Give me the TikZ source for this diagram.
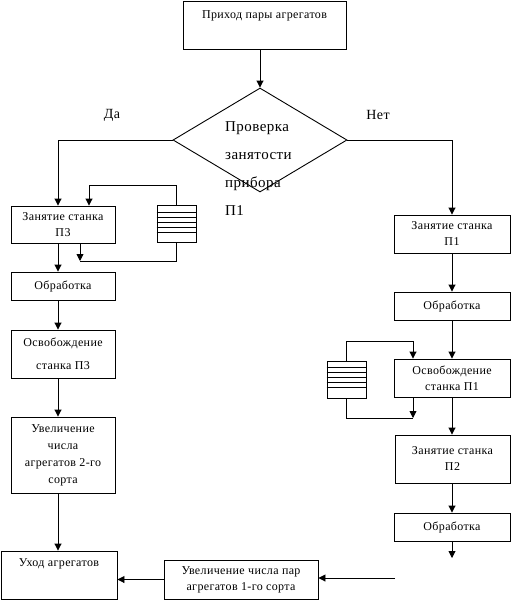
\documentclass[tikz,border=0pt]{standalone}
\usepackage{fontspec}
\setmainfont{Liberation Serif}
\newfontfamily\boxfont[LetterSpace=3]{Liberation Serif}
\usetikzlibrary{shapes.geometric,arrows.meta}
\begin{document}
\begin{tikzpicture}[x=1pt,y=-1pt,
  every node/.style={inner sep=0pt},
  box/.style={draw, line width=0.9pt, align=center, font=\boxfont\fontsize{12}{16}\selectfont},
  txt/.style={font=\boxfont\fontsize{12}{16}\selectfont},
  queue/.style={draw, line width=0.9pt, minimum width=39pt, minimum height=37pt},
  arr/.style={line width=0.9pt, -{Triangle[length=7pt,width=7pt]}},
  ln/.style={line width=0.9pt}]
\useasboundingbox[fill=white] (0,0) rectangle (511,600);
% top
\node[box, minimum width=163pt, minimum height=48pt] (start) at (264.5,25) {};
\node[txt] (startT) at (264.5,16) {Приход пары агрегатов};
% decision
\node[draw, line width=0.9pt, diamond, minimum width=174pt, minimum height=104pt] (dec) at (260,140) {};
\node[anchor=north west, align=left, font=\boxfont\fontsize{15}{28}\selectfont] (decT) at (225,121) {Проверка\\занятости\\прибора\\П1};
\node[font=\boxfont\fontsize{14}{15}\selectfont] (yes) at (112,115) {Да};
\node[font=\boxfont\fontsize{14}{15}\selectfont] (no) at (378,115) {Нет};
% left column
\node[box, minimum width=104pt, minimum height=37pt] (l1) at (63,224.5) {Занятие станка\\П3};
\node[queue] (q1) at (176.5,224) {};
\node[box, minimum width=104pt, minimum height=28pt] (l2) at (63,286) {Обработка};
\node[box, minimum width=104pt, minimum height=48pt, font=\boxfont\fontsize{12}{23}\selectfont] (l3) at (63,354) {Освобождение\\станка П3};
\node[box, minimum width=104pt, minimum height=76pt, font=\boxfont\fontsize{12}{17}\selectfont] (l4) at (63,455) {Увеличение\\числа\\агрегатов 2-го\\сорта};
\node[box, minimum width=116pt, minimum height=48pt] (l5) at (59,575) {};
\node[txt] (l5T) at (59,564) {Уход агрегатов};
% right column
\node[box, minimum width=116pt, minimum height=38pt] (r1) at (452,234) {Занятие станка\\П1};
\node[box, minimum width=116pt, minimum height=28pt] (r2) at (452,306) {Обработка};
\node[box, minimum width=116pt, minimum height=38pt] (r3) at (452,378) {Освобождение\\станка П1};
\node[queue] (q2) at (346.5,379.5) {};
\node[box, minimum width=115pt, minimum height=48pt] (r4) at (452.5,459) {Занятие станка\\П2};
\node[box, minimum width=116pt, minimum height=28pt] (r5) at (452,527) {Обработка};
\coordinate (r5e) at (452,558);
\coordinate (rin) at (395,578);
\node[box, minimum width=154pt, minimum height=39pt] (b1) at (241,579.5) {Увеличение числа пар\\агрегатов 1-го сорта};
% queue lines
\foreach \q in {q1,q2}{
  \foreach \d in {7,12,17,22,27}{
    \draw[ln] ([yshift=-\d pt]\q.north west) -- ([yshift=-\d pt]\q.north east);
  }
}
% connectors
\draw[arr] (dec.north |- start.south) -- (dec.north);
\draw[arr] (dec.west) -| ([xshift=-5pt]l1.north);
\draw[arr] (dec.east) -| (r1.north);
\draw[arr] ([xshift=-5pt]l1.south) -- ([xshift=-5pt]l2.north);
\draw[arr] ([xshift=-5pt]l2.south) -- ([xshift=-5pt]l3.north);
\draw[arr] ([xshift=-5pt]l3.south) -- ([xshift=-5pt]l4.north);
\draw[arr] ([xshift=-5pt]l4.south) -- ([xshift=-5pt]l4.south |- l5.north);
\draw[arr] (q1.north) -- ++(0,-20) -| ([xshift=26pt]l1.north);
\coordinate (l1q) at (80,261);
\draw[ln] (q1.south) |- (l1q);
\draw[arr] (l1q |- l1.south) -- (l1q);
\draw[arr] (r1) -- (r2);
\draw[arr] (r2) -- (r3);
\draw[arr] (r3) -- (r4.north -| r3.south);
\draw[arr] (r4.south -| r5.north) -- (r5);
\draw[arr] (r5) -- (r5e);
\draw[arr] (q2.north) -- ++(0,-19) -| ([xshift=-39pt]r3.north);
\coordinate (r3q) at (413,418);
\draw[ln] (q2.south) |- (r3q);
\draw[arr] (r3q |- r3.south) -- (r3q);
\draw[arr] (rin) -- (b1.east |- rin);
\draw[arr] (b1.west) -- (l5.east |- b1.west);
\end{tikzpicture}
\end{document}
